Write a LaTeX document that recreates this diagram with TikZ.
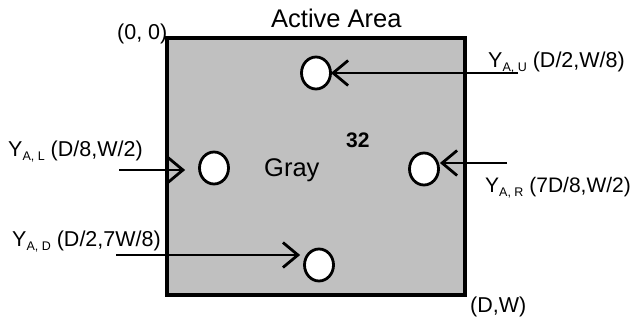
\documentclass[tikz,border=0pt]{standalone}
\usepackage{fontspec}
\setmainfont{Liberation Sans}
\usetikzlibrary{arrows.meta,shapes.geometric}
\newcommand{\lblsub}[1]{\raisebox{-3.5pt}{\fontsize{12.5}{12}\selectfont #1}}
\begin{document}
\begin{tikzpicture}[x=1pt,y=-1pt,
  areabox/.style={draw=black,line width=3.2pt,fill={rgb,255:red,192;green,192;blue,192},minimum width=298pt,minimum height=257pt,inner sep=0pt},
  hole/.style={ellipse,draw=black,line width=2.8pt,fill=white,minimum width=29pt,minimum height=32pt,inner sep=0pt},
  arr/.style={line width=2.8pt,-{Straight Barb[length=15pt,width=25pt,line width=2.8pt]}},
  lbl/.style={anchor=base west,inner sep=0pt,font=\fontsize{21.5}{24}\selectfont},
  big/.style={anchor=base west,inner sep=0pt,font=\fontsize{25.5}{28}\selectfont}]
\useasboundingbox (0,0) rectangle (634,320);
\node[areabox] (area) at (316,166.5) {};
\node[big] (title) at (271,28) {Active Area};
\node[lbl] (origin) at (117,40) {(0, 0)};
\node[lbl] (corner) at (470,312) {(D,W)};
\node[big] (gray) at (264,177) {Gray};
\node[anchor=base west,inner sep=0pt,font=\fontsize{21}{24}\selectfont\bfseries] (num) at (346,148) {32};
\node[hole] (cU) at (316,73) {};
\node[hole] (cL) at (214,168) {};
\node[hole] (cR) at (424,169) {};
\node[hole] (cD) at (319,265) {};
\node[lbl] (tU) at (488,68) {Y\lblsub{A, U} (D/2,W/8)};
\node[lbl] (tL) at (8,157) {Y\lblsub{A, L} (D/8,W/2)};
\node[lbl,font=\fontsize{21}{24}\selectfont] (tR) at (485,193) {Y\lblsub{A, R} (7D/8,W/2)};
\node[lbl] (tD) at (12,247) {Y\lblsub{A, D} (D/2,7W/8)};
\coordinate (sU) at (518,73);
\coordinate (sL) at (119,170);
\coordinate (sR) at (507,163);
\coordinate (sD) at (116,255);
\draw[arr,shorten >=-1pt] (sU) -- (sU -| cU.east);
\draw[arr,shorten >=13pt] (sL) -- (sL -| cL.west);
\draw[arr] (sR) -- (sR -| cR.east);
\draw[arr,shorten >=3pt] (sD) -- (sD -| cD.west);
\end{tikzpicture}
\end{document}
